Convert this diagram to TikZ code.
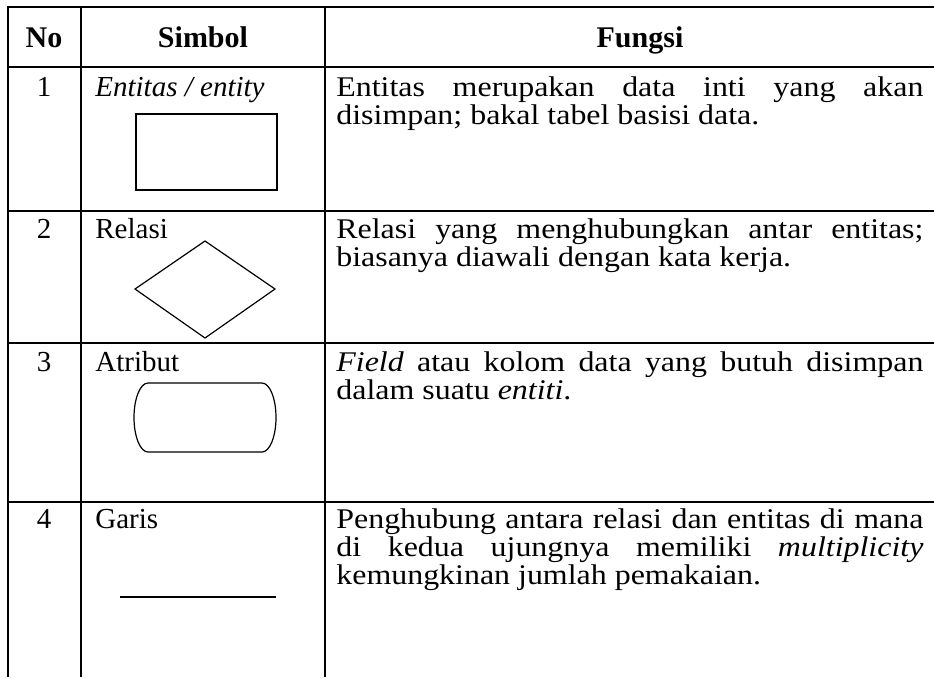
\documentclass[tikz,border=0pt]{standalone}
\usepackage{fontspec}
\setmainfont{Liberation Serif}
\newfontfamily\widefont{Liberation Serif}[FakeStretch=1.12]

\tikzset{
    tableline/.style={line width=0.7pt},
    symbolline/.style={line width=0.6pt},
    headtext/.style={font=\fontsize{15}{18}\selectfont\bfseries, anchor=base, inner sep=0pt},
    numtext/.style={font=\fontsize{14.5}{17}\selectfont, anchor=base, inner sep=0pt},
    symtext/.style={font=\fontsize{14.5}{17}\selectfont, anchor=base west, inner sep=0pt},
    fungsitext/.style={font=\widefont\fontsize{14.25}{14}\selectfont, anchor=base west,
        inner sep=0pt, text width=293.5pt, align=justify,
        execute at begin node={\setlength{\baselineskip}{14pt}\spaceskip=4pt plus 12pt minus 0.5pt}}
}

\begin{document}
\begin{tikzpicture}[x=0.5pt, y=-0.5pt]
    \useasboundingbox (0,0) rectangle (934,677);
    % Table grid
    \draw [tableline] (8,677) -- (8,7) -- (934,7);
    \draw [tableline] (81,7) -- (81,677);
    \draw [tableline] (325,7) -- (325,677);
    \foreach \y in {67,211,343,502}
        \draw [tableline] (8,\y) -- (934,\y);
    % Header
    \node [headtext] (hno) at (44,47) {No};
    \node [headtext] (hsimbol) at (203,47) {Simbol};
    \node [headtext] (hfungsi) at (640,47) {Fungsi};
    % Row 1: entitas
    \node [numtext] (no1) at (44,96) {1};
    \node [symtext] (sym1) at (95,96) {\itshape Entitas / entity};
    \node [fungsitext] (fn1) at (336,96)
        {Entitas merupakan data inti yang akan\linebreak disimpan; bakal tabel basisi data.};
    \draw [symbolline] (136,114) rectangle (277,190);
    % Row 2: relasi
    \node [numtext] (no2) at (44,238) {2};
    \node [symtext] (sym2) at (95,238) {Relasi};
    \node [fungsitext] (fn2) at (336,238)
        {Relasi yang menghubungkan antar entitas;\linebreak biasanya diawali dengan kata kerja.};
    \draw [symbolline] (135,289) -- (205,241) -- (275,289) -- (205,338) -- cycle;
    % Row 3: atribut
    \node [numtext] (no3) at (44,371) {3};
    \node [symtext] (sym3) at (95,371) {Atribut};
    \node [fungsitext] (fn3) at (336,371)
        {\textit{Field} atau kolom data yang butuh disimpan\linebreak dalam suatu \textit{entiti}.};
    \draw [symbolline] (148,383) -- (262,383)
        arc [start angle=90, end angle=-90, x radius=7pt, y radius=17.25pt] -- (148,452)
        arc [start angle=270, end angle=90, x radius=7pt, y radius=17.25pt] -- cycle;
    % Row 4: garis
    \node [numtext] (no4) at (44,528) {4};
    \node [symtext] (sym4) at (95,528) {Garis};
    \node [fungsitext] (fn4) at (336,528)
        {Penghubung antara relasi dan entitas di mana\linebreak
         di kedua ujungnya memiliki \textit{multiplicity}\linebreak
         kemungkinan jumlah pemakaian.};
    \coordinate (garisl) at (120,597);
    \coordinate (garisr) at (276,597);
    \draw [symbolline, line width=0.9pt] (garisl) -- (garisr);
\end{tikzpicture}
\end{document}
